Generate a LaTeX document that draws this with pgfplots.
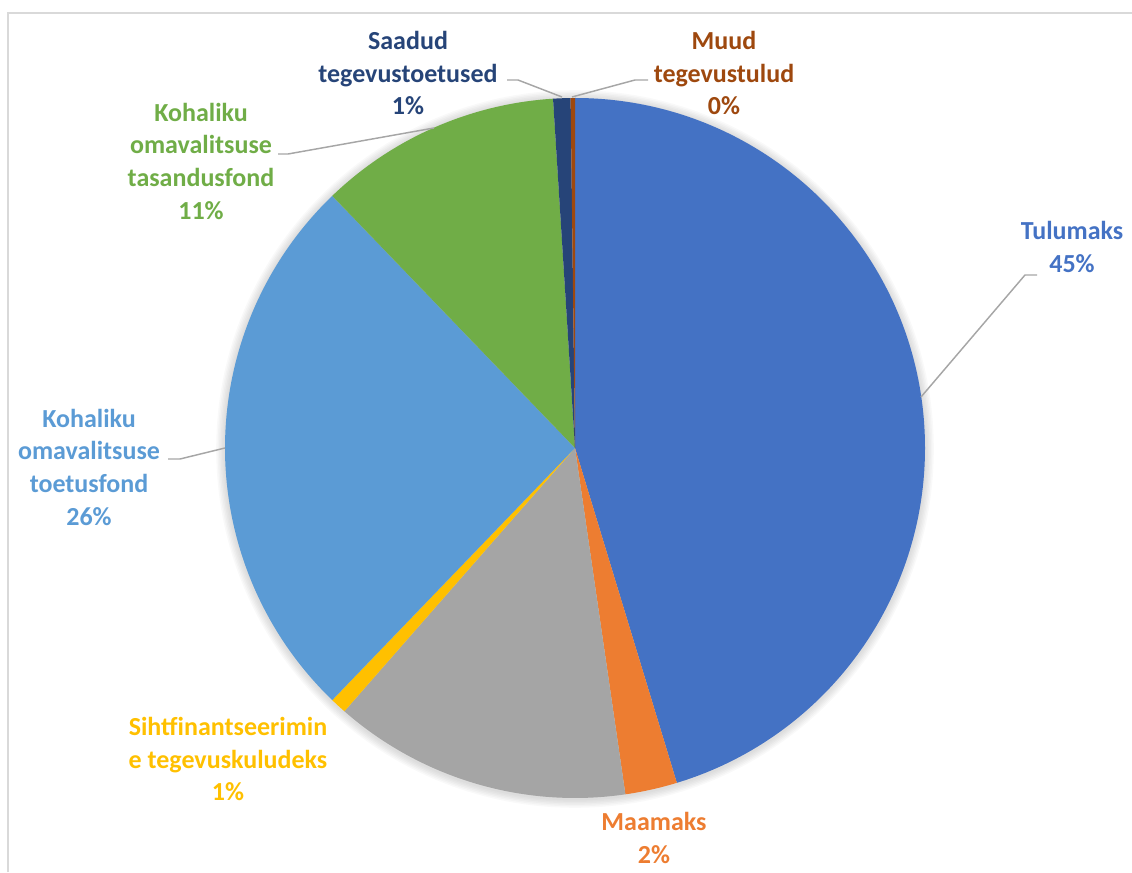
\documentclass[border=0pt]{standalone}
\usepackage{pgfplots}
\usepackage{pgfplotstable}
\pgfplotsset{compat=1.18}
\usepackage{fontspec}
\setmainfont{Carlito}

\definecolor{c0}{HTML}{4472C4}
\definecolor{c1}{HTML}{ED7D31}
\definecolor{c2}{HTML}{A5A5A5}
\definecolor{c3}{HTML}{FFC000}
\definecolor{c4}{HTML}{5B9BD5}
\definecolor{c5}{HTML}{70AD47}
\definecolor{c6}{HTML}{264478}
\definecolor{c7}{HTML}{9E480E}
\definecolor{leader}{HTML}{A6A6A6}
\definecolor{frame}{HTML}{D9D9D9}

\tikzset{lbl/.style={align=center, inner sep=0pt,
    font=\fontsize{19.5}{24.5}\selectfont\bfseries}}

% shares in percent, clockwise from 12 o'clock
\pgfplotstableread{
share name
45.3  Tulumaks
2.4   Maamaks
13.75 muu
0.75  Sihtfinantseerimine
25.6  Toetusfond
11.2  Tasandusfond
0.8   Saadud
0.2   Muud
}\piedata

\begin{document}
\begin{tikzpicture}
% start/end angle of every slice
\xdef\cum{0}%
\foreach \i in {0,...,7}{%
  \pgfplotstablegetelem{\i}{share}\of\piedata
  \let\v\pgfplotsretval
  \pgfmathsetmacro\a{90-3.6*\cum}%
  \pgfmathsetmacro\newcum{\cum+\v}%
  \pgfmathsetmacro\b{90-3.6*\newcum}%
  \expandafter\xdef\csname sa\i\endcsname{\a}%
  \expandafter\xdef\csname sb\i\endcsname{\b}%
  \xdef\cum{\newcum}%
}
\begin{axis}[hide axis, scale only axis, width=849pt, height=654pt,
  xmin=0, xmax=1132, ymin=0, ymax=872, clip=false]
\coordinate (ll) at (axis cs:0,0);
\coordinate (ur) at (axis cs:1132,872);
\draw[frame, line width=1.2pt] (axis cs:8,0) -- (axis cs:8,859) -- (axis cs:1132,859);

% soft shadow
\pgfplotsinvokeforeach{1,...,6}{
  \fill[black, opacity=0.022] (axis cs:575,423) circle[radius={262.5pt+#1*1.1pt}];
}
% slices
\pgfplotsinvokeforeach{0,...,7}{
  \fill[c#1] (axis cs:575,424) -- ++(\csname sa#1\endcsname:262.5pt)
    arc[start angle=\csname sa#1\endcsname, end angle=\csname sb#1\endcsname, radius=262.5pt] -- cycle;
}

% leader lines
\draw[leader, line width=1.1pt] (axis cs:507,792) -- (axis cs:518,792) -- (axis cs:562,775);
\draw[leader, line width=1.1pt] (axis cs:572,775) -- (axis cs:635,792) -- (axis cs:648,792);
\draw[leader, line width=1.1pt] (axis cs:278,718) -- (axis cs:288,718) -- (axis cs:434,744);
\draw[leader, line width=1.1pt] (axis cs:1037,597) -- (axis cs:1025,597) -- (axis cs:921,475);
\draw[leader, line width=1.1pt] (axis cs:168,413) -- (axis cs:180,413) -- (axis cs:225,424);

% labels
\node[lbl, text=c6] at (axis cs:408,799) {Saadud\\tegevustoetused\\1\%};
\node[lbl, text=c7] at (axis cs:724,799) {Muud\\tegevustulud\\0\%};
\node[lbl, text=c5] at (axis cs:201,711) {Kohaliku\\omavalitsuse\\tasandusfond\\11\%};
\node[lbl, text=c0] at (axis cs:1072,625) {Tulumaks\\45\%};
\node[lbl, text=c4] at (axis cs:89,405) {Kohaliku\\omavalitsuse\\toetusfond\\26\%};
\node[lbl, text=c3] at (axis cs:228,113) {Sihtfinantseerimin\\e tegevuskuludeks\\1\%};
\node[lbl, text=c1] at (axis cs:654,34) {Maamaks\\2\%};
\end{axis}
\pgfresetboundingbox
\path[use as bounding box] (ll) rectangle (ur);
\end{tikzpicture}
\end{document}
